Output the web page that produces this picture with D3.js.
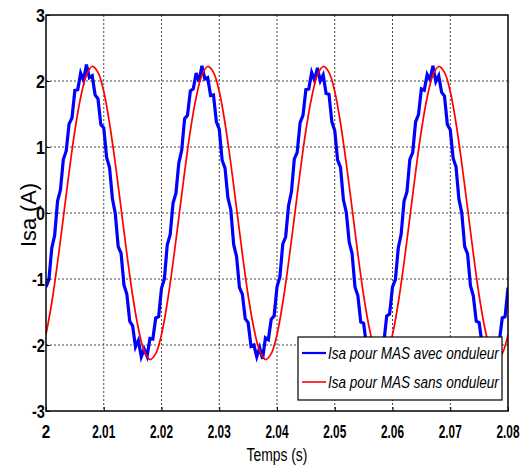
<!DOCTYPE html>
<html><head><meta charset="utf-8">
<script src="https://cdn.jsdelivr.net/npm/d3@7/dist/d3.min.js"></script>
<style>body{margin:0;background:#fff}svg{display:block}</style>
</head><body><svg id="c" width="532" height="470"></svg>
<script>
const xTicks = [2, 2.01, 2.02, 2.03, 2.04, 2.05, 2.06, 2.07, 2.08];
const xTickLabels = ["2","2.01","2.02","2.03","2.04","2.05","2.06","2.07","2.08"];
const yTicks = [-3, -2, -1, 0, 1, 2, 3];
const seriesNames = ["Isa pour MAS avec onduleur", "Isa pour MAS sans onduleur"];
// red: step 0.001 s starting at 2
const redStart = 2, redStep = 0.001;
const redValues = [
-1.84,-1.36,-0.75,-0.07,0.62,1.25,1.75,2.09,2.22,2.13,
1.84,1.36,0.75,0.07,-0.62,-1.25,-1.75,-2.09,-2.22,-2.13,
-1.84,-1.36,-0.75,-0.07,0.62,1.25,1.75,2.09,2.22,2.13,
1.84,1.36,0.75,0.07,-0.62,-1.25,-1.75,-2.09,-2.22,-2.13,
-1.84,-1.36,-0.75,-0.07,0.62,1.25,1.75,2.09,2.22,2.13,
1.84,1.36,0.75,0.07,-0.62,-1.25,-1.75,-2.09,-2.22,-2.13,
-1.84,-1.36,-0.75,-0.07,0.62,1.25,1.75,2.09,2.22,2.13,
1.84,1.36,0.75,0.07,-0.62,-1.25,-1.75,-2.09,-2.22,-2.13,
-1.84];
// blue: step 0.0005 s starting at 2
const blueStart = 2, blueStep = 0.0005;
const blueValues = [
-1.12,-1.01,-0.53,-0.34,0.18,0.35,0.81,0.94,1.35,1.44,
1.86,1.87,2.12,2.01,2.25,2.05,2.08,1.79,1.73,1.34,
1.29,0.84,0.69,0.22,-0.01,-0.51,-0.61,-1.09,-1.23,-1.64,
-1.71,-2.03,-1.93,-2.18,-2.06,-2.17,-1.90,-1.91,-1.59,-1.57,
-1.14,-1.00,-0.48,-0.33,0.15,0.30,0.76,0.95,1.43,1.48,
1.85,1.88,2.12,1.99,2.23,2.03,2.05,1.78,1.79,1.38,
1.27,0.80,0.68,0.23,0.05,-0.48,-0.66,-1.13,-1.23,-1.60,
-1.66,-2.02,-2.00,-2.18,-2.04,-2.21,-1.89,-1.92,-1.61,-1.56,
-1.12,-0.97,-0.47,-0.36,0.11,0.32,0.82,0.92,1.37,1.48,
1.87,1.88,2.13,2.01,2.20,2.00,2.09,1.81,1.80,1.38,
1.25,0.80,0.69,0.20,0.01,-0.44,-0.61,-1.12,-1.25,-1.65,
-1.67,-2.01,-1.98,-2.23,-2.03,-2.15,-1.96,-1.96,-1.56,-1.53,
-1.12,-1.01,-0.53,-0.32,0.18,0.32,0.81,0.92,1.38,1.49,
1.88,1.86,2.10,2.02,2.23,1.99,2.08,1.83,1.77,1.34,
1.26,0.83,0.70,0.21,0.00,-0.51,-0.62,-1.10,-1.26,-1.64,
-1.66,-1.98,-1.97,-2.21,-2.01,-2.16,-1.94,-1.95,-1.59,-1.57,
-1.13];

const svg = d3.select("#c");
const L = 46, R = 508, T = 15, B = 411;
const x = d3.scaleLinear().domain([2, 2.08]).range([L, R]);
const y = d3.scaleLinear().domain([-3, 3]).range([B, T]);
const font = "'Liberation Sans', Arial, sans-serif";

// place a text at (px,py) and squeeze it horizontally to a given width
function fitText(parent, str, px, py, width, anchor, attrs, rotate) {
  const t = parent.append("text").text(str).attr("x", 0).attr("y", 0);
  Object.entries(attrs).forEach(([k, v]) => t.attr(k, v));
  const w0 = t.node().getComputedTextLength();
  const s = width / w0;
  const off = anchor === "middle" ? -width / 2 : anchor === "end" ? -width : 0;
  t.attr("transform", `translate(${px},${py})${rotate ? " rotate(" + rotate + ")" : ""} translate(${off},0) scale(${s},1)`);
  return t;
}

svg.append("defs").append("clipPath").attr("id", "clip")
  .append("rect").attr("x", L).attr("y", T).attr("width", R - L).attr("height", B - T);

// grid
const g = svg.append("g");
g.selectAll(".gx").data(xTicks.slice(1, -1)).join("line")
  .attr("x1", d => x(d)).attr("x2", d => x(d)).attr("y1", T).attr("y2", B)
  .attr("stroke", "#444").attr("stroke-width", 1).attr("stroke-dasharray", "2,2");
g.selectAll(".gy").data(yTicks.slice(1, -1)).join("line")
  .attr("y1", d => y(d)).attr("y2", d => y(d)).attr("x1", L).attr("x2", R)
  .attr("stroke", "#444").attr("stroke-width", 1).attr("stroke-dasharray", "2,2");

// lines
const blueData = blueValues.map((v, i) => [blueStart + i * blueStep, v]);
const redData = redValues.map((v, i) => [redStart + i * redStep, v]);
const lineLin = d3.line().x(d => x(d[0])).y(d => y(d[1]));
const lineSmooth = d3.line().x(d => x(d[0])).y(d => y(d[1])).curve(d3.curveCatmullRom);
const plot = svg.append("g").attr("clip-path", "url(#clip)");
plot.append("path").datum(blueData).attr("d", lineLin)
  .attr("fill", "none").attr("stroke", "#0000ff").attr("stroke-width", 3.2).attr("stroke-linejoin", "miter");
plot.append("path").datum(redData).attr("d", lineSmooth)
  .attr("fill", "none").attr("stroke", "#ff0000").attr("stroke-width", 1.7);

// axes (ticks only; labels drawn squeezed below)
const xAxis = d3.axisBottom(x).tickValues(xTicks).tickFormat("").tickSizeInner(-4).tickSizeOuter(0);
const yAxis = d3.axisLeft(y).tickValues(yTicks).tickFormat("").tickSizeInner(-4).tickSizeOuter(0);
const ax = svg.append("g").attr("transform", `translate(0,${B})`).call(xAxis);
const ay = svg.append("g").attr("transform", `translate(${L},0)`).call(yAxis);
[ax, ay].forEach(a => { a.select(".domain").remove(); a.selectAll("line").attr("stroke", "#000"); });

const tickAttrs = {"font-family": font, "font-size": 19, "font-weight": "bold", "fill": "#000"};
const tl = svg.append("g");
xTicks.forEach((d, i) => {
  const lab = xTickLabels[i];
  const w = lab.length === 1 ? 8.5 : 23;
  fitText(tl, lab, x(d), 438, w, "middle", tickAttrs);
});
yTicks.forEach(d => {
  const lab = String(d);
  const w = lab.length === 1 ? 9 : 13;
  fitText(tl, lab, 45, y(d) + 7, w, "end", tickAttrs);
});

// frame
svg.append("rect").attr("x", L).attr("y", T).attr("width", R - L).attr("height", B - T)
  .attr("fill", "none").attr("stroke", "#000").attr("stroke-width", 1.5);

// axis labels
fitText(svg, "Temps (s)", 277, 461, 61, "middle", {"font-family": font, "font-size": 18, "fill": "#000"});
fitText(svg, "Isa (A)", 36, 215, 64, "middle", {"font-family": font, "font-size": 22, "fill": "#000"}, -90);

// legend
const lg = svg.append("g");
lg.append("rect").attr("x", 298).attr("y", 337).attr("width", 204).attr("height", 63)
  .attr("fill", "#fff").attr("stroke", "#000").attr("stroke-width", 1.2);
const colors = ["#0000ff", "#ff0000"];
seriesNames.forEach((s, i) => {
  const yy = 353 + i * 29;
  lg.append("line").attr("x1", 302).attr("x2", 326).attr("y1", yy).attr("y2", yy)
    .attr("stroke", colors[i]).attr("stroke-width", i === 0 ? 2.2 : 1.6);
  fitText(lg, s, 328, yy + 6, 171, "start",
    {"font-family": font, "font-size": 17, "font-style": "italic", "fill": "#000"});
});
</script></body></html>
